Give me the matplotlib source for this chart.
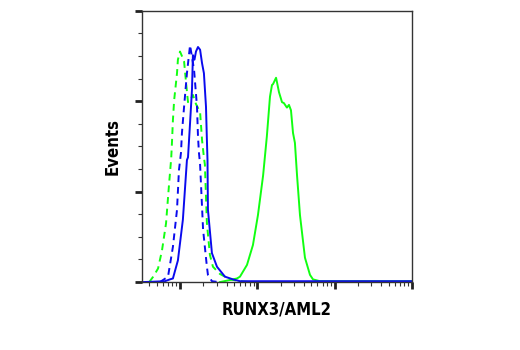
import matplotlib
matplotlib.use("Agg")
import matplotlib.pyplot as plt
from matplotlib.ticker import LogLocator, MultipleLocator, NullFormatter

# fluorescence intensity (x) and event counts (y)
green_dash_x = [4.0, 4.5, 5.2, 5.85, 6.6, 7.2, 7.7, 7.9, 8.1, 8.4, 9.15, 9.4, 10, 10.6, 11.3,
                12.0, 12.7, 13.5, 14.7, 16.1, 18.2, 19.3, 20.4, 21.0, 22.3, 24.4, 26.7,
                32.9, 44.3, 59.7, 80]
green_dash_y = [0, 6, 15, 35, 65, 107, 137, 157, 179, 201, 231, 246, 255, 250, 244,
                220, 199, 201, 207, 197, 188, 157, 138, 130, 65, 30, 17,
                9, 3, 1, 0]

blue_dash_x = [5.5, 7.0, 8.1, 9.15, 9.7, 10.3, 10.6, 11.3, 12.3, 13.5, 15.2, 16.6, 17.1,
               17.6, 18.2, 19.9, 22.3, 23.0, 25.9, 32]
blue_dash_y = [0, 6, 39, 80, 124, 143, 165, 194, 231, 262, 235, 194, 161,
               143, 130, 58, 17, 8, 1, 0]

blue_x = [3.3, 6.4, 7.4, 8.1, 9.4, 10.9, 12.3, 12.7, 13.5, 14.3, 14.7, 15.4, 16.1, 17.1,
          18.2, 19.3, 20.4, 21.7, 22.3, 22.7, 23.0, 25.9, 30.1, 38.2, 48.5, 59.7, 10000]
blue_y = [0, 1, 3, 4, 24, 69, 135, 138, 176, 213, 251, 246, 255, 260,
          257, 242, 231, 194, 157, 135, 80, 32, 17, 6, 3, 1, 1]

green_x = [32.9, 54.6, 59.7, 73.6, 87.9, 102, 119, 133, 146, 155, 160, 175, 180, 191, 209,
           221, 242, 257, 273, 290, 307, 327, 357, 414, 481, 526, 647, 10000]
green_y = [0, 4, 6, 19, 41, 74, 118, 161, 205, 218, 219, 226, 221, 210, 199,
           198, 193, 196, 190, 165, 154, 118, 74, 27, 8, 3, 1, 1]

green = "#11ff11"
blue = "#0a0aee"

fig = plt.figure(figsize=(5.2, 3.5), dpi=100)
ax = fig.add_axes([0.273, 0.194, 0.519, 0.775])

ax.plot(green_dash_x, green_dash_y, color=green, lw=1.4, ls=(0, (3.5, 2.5)))
ax.plot(blue_dash_x, blue_dash_y, color=blue, lw=1.4, ls=(0, (3.5, 2.5)))
ax.plot(green_x, green_y, color=green, lw=1.4)
ax.plot(blue_x, blue_y, color=blue, lw=1.4)

ax.set_xscale("log")
ax.set_xlim(10 ** 0.508, 10 ** 4)
ax.set_ylim(0, 300)

ax.xaxis.set_major_locator(LogLocator(base=10, numticks=10))
ax.xaxis.set_minor_locator(LogLocator(base=10, subs=range(2, 10), numticks=20))
ax.xaxis.set_major_formatter(NullFormatter())
ax.xaxis.set_minor_formatter(NullFormatter())
ax.yaxis.set_major_locator(MultipleLocator(100))
ax.yaxis.set_minor_locator(MultipleLocator(25))
ax.yaxis.set_major_formatter(NullFormatter())

for s in ax.spines.values():
    s.set_color("#333333")
    s.set_linewidth(1.0)
ax.tick_params(which="major", length=5, width=2, color="#222222")
ax.tick_params(which="minor", length=3, width=0.8, color="#333333")

lab = dict(fontsize=12, fontweight="bold", fontstretch="condensed",
           family=["DejaVu Sans"])
ax.set_xlabel("RUNX3/AML2", labelpad=5, **lab)
ax.set_ylabel("Events", labelpad=6, **lab)

fig.savefig("out.png", dpi=100)
